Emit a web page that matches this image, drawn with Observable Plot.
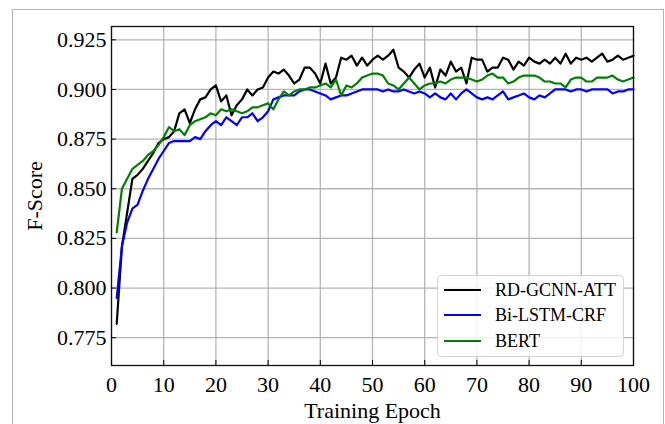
<!DOCTYPE html>
<html><head><meta charset="utf-8">
<script src="https://cdn.jsdelivr.net/npm/d3@7"></script>
<script src="https://cdn.jsdelivr.net/npm/@observablehq/plot@0.6"></script>
<style>
body{margin:0;background:#fff;}
#wrap{position:relative;width:665px;height:424px;overflow:hidden;font-family:"Liberation Serif","Times New Roman",serif;}
#frame{position:absolute;left:12px;top:9px;width:650px;height:440px;border:1.5px solid #b4b4b4;}
#chart{position:absolute;left:0;top:0;}
#legend{position:absolute;left:437px;top:275px;width:187px;height:82px;border:1px solid #d4d4d4;border-radius:4px;background:rgba(255,255,255,0.8);box-sizing:border-box;}
.row{position:absolute;left:6px;height:20px;display:flex;align-items:center;font-size:18px;line-height:20px;white-space:nowrap;}
.sw{width:37px;height:0;border-top:2px solid;margin-right:14px;}
</style>
</head><body>
<div id="wrap"><div id="frame"></div><div id="chart"></div><div id="legend"></div></div>
<script>
const series = ["RD-GCNN-ATT", "Bi-LSTM-CRF", "BERT"];
const colors = ["#000000", "#0000ff", "#008000"];
const epochs = d3.range(1, 101);
const xTicks = [0, 10, 20, 30, 40, 50, 60, 70, 80, 90, 100];
const yTicks = [0.775, 0.800, 0.825, 0.850, 0.875, 0.900, 0.925];

const rdGcnnAtt = [
0.782,0.821,0.838,0.855,0.857,0.860,0.864,0.868,0.873,0.875,
0.876,0.879,0.888,0.890,0.883,0.890,0.895,0.896,0.900,0.902,
0.894,0.897,0.887,0.892,0.895,0.900,0.897,0.900,0.901,0.906,
0.909,0.908,0.910,0.907,0.903,0.905,0.911,0.911,0.908,0.903,
0.913,0.903,0.906,0.916,0.915,0.917,0.912,0.916,0.912,0.915,
0.917,0.915,0.917,0.920,0.911,0.909,0.906,0.910,0.913,0.906,
0.911,0.901,0.910,0.907,0.914,0.909,0.911,0.903,0.916,0.915,
0.915,0.909,0.911,0.911,0.916,0.915,0.910,0.914,0.912,0.916,
0.914,0.913,0.915,0.913,0.916,0.913,0.918,0.913,0.916,0.915,
0.916,0.914,0.916,0.918,0.914,0.915,0.917,0.915,0.916,0.917];

const biLstmCrf = [
0.795,0.821,0.833,0.840,0.842,0.849,0.855,0.860,0.865,0.869,
0.873,0.874,0.874,0.874,0.874,0.876,0.875,0.879,0.882,0.884,
0.882,0.886,0.884,0.882,0.886,0.886,0.888,0.884,0.886,0.889,
0.895,0.896,0.897,0.897,0.897,0.899,0.900,0.900,0.899,0.898,
0.897,0.895,0.896,0.897,0.897,0.898,0.899,0.900,0.900,0.900,
0.900,0.899,0.900,0.899,0.899,0.900,0.899,0.898,0.899,0.898,
0.896,0.898,0.896,0.895,0.898,0.895,0.898,0.900,0.898,0.896,
0.895,0.896,0.895,0.897,0.899,0.895,0.896,0.897,0.898,0.896,
0.895,0.897,0.896,0.898,0.900,0.900,0.900,0.899,0.900,0.900,
0.899,0.900,0.900,0.900,0.900,0.898,0.899,0.899,0.900,0.900];

const bert = [
0.828,0.850,0.855,0.860,0.862,0.864,0.867,0.869,0.872,0.876,
0.881,0.879,0.880,0.877,0.882,0.884,0.885,0.886,0.888,0.887,
0.890,0.889,0.890,0.889,0.888,0.889,0.891,0.891,0.892,0.893,
0.890,0.895,0.899,0.897,0.899,0.900,0.900,0.901,0.901,0.902,
0.903,0.901,0.905,0.897,0.902,0.901,0.903,0.906,0.907,0.908,
0.908,0.907,0.903,0.902,0.900,0.903,0.906,0.903,0.900,0.902,
0.903,0.903,0.904,0.903,0.905,0.906,0.906,0.906,0.905,0.904,
0.905,0.907,0.908,0.906,0.906,0.903,0.904,0.906,0.907,0.907,
0.907,0.906,0.904,0.904,0.903,0.903,0.901,0.905,0.906,0.906,
0.904,0.904,0.906,0.906,0.906,0.907,0.905,0.904,0.905,0.906];

const values = [rdGcnnAtt, biLstmCrf, bert];
const data = [];
values.forEach((vals, i) => vals.forEach((v, j) => data.push({epoch: epochs[j], f: v, model: series[i]})));

const font = "Liberation Serif, Times New Roman, serif";
const chart = Plot.plot({
  width: 665, height: 424,
  marginLeft: 111, marginRight: 32, marginTop: 26, marginBottom: 59,
  style: {fontFamily: font, fontSize: "22px", background: "transparent", color: "#000", overflow: "visible"},
  x: {domain: [0, 100]},
  y: {domain: [0.761, 0.9317]},
  color: {domain: series, range: colors},
  marks: [
    Plot.gridX(xTicks, {stroke: "#b4b4b4", strokeOpacity: 1, strokeWidth: 1.3}),
    Plot.gridY(yTicks, {stroke: "#b4b4b4", strokeOpacity: 1, strokeWidth: 1.3}),
    Plot.line(data, {x: "epoch", y: "f", z: "model", stroke: "model", strokeWidth: 2.2}),
    Plot.frame({stroke: "#111", strokeWidth: 1.3}),
    Plot.axisX(xTicks, {tickSize: -5, tickPadding: 16, fontSize: 22, label: "Training Epoch", labelAnchor: "center", labelArrow: "none", labelOffset: 52}),
    Plot.axisY(yTicks, {tickSize: -5, tickPadding: 10, fontSize: 22, tickFormat: d3.format(".3f"), label: "F-Score", labelAnchor: "center", labelArrow: "none", labelOffset: 85})
  ]
});
document.getElementById("chart").appendChild(chart);

const legend = document.getElementById("legend");
const rowTops = [4, 29, 55];
series.forEach((name, i) => {
  const row = document.createElement("div");
  row.className = "row";
  row.style.top = rowTops[i] + "px";
  const sw = document.createElement("span");
  sw.className = "sw";
  sw.style.borderTopColor = colors[i];
  const t = document.createElement("span");
  t.textContent = name;
  row.appendChild(sw); row.appendChild(t);
  legend.appendChild(row);
});
</script>
</body></html>
